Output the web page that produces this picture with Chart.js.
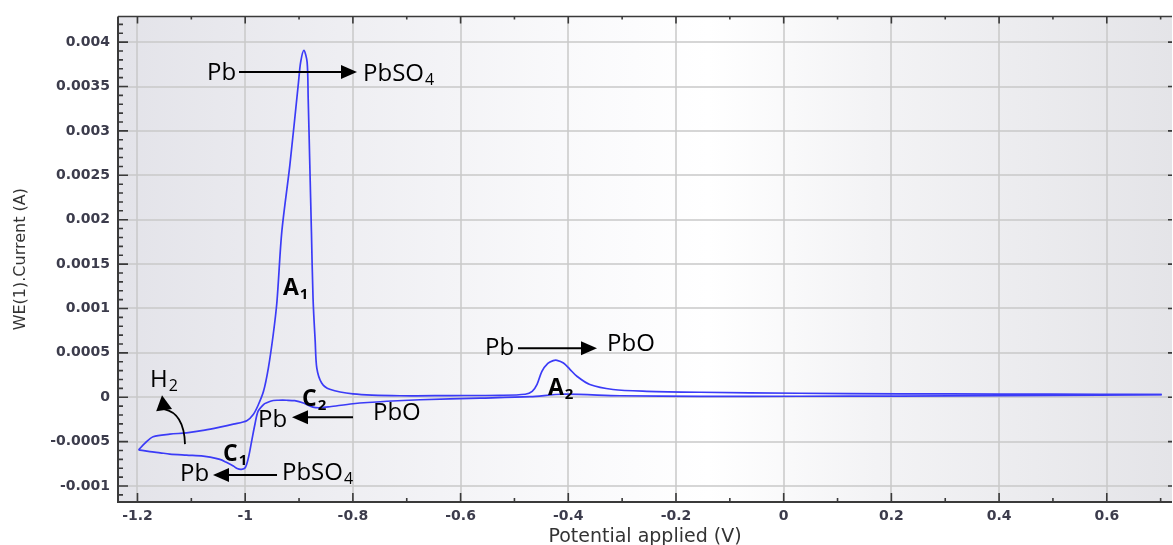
<!DOCTYPE html>
<html>
<head>
<meta charset="utf-8">
<script src="https://cdn.jsdelivr.net/npm/chart.js@4.4.1/dist/chart.umd.min.js"></script>
<style>
html, body { margin: 0; padding: 0; background: #fff; }
#cv { display: block; }
</style>
</head>
<body>
<canvas id="cv" width="1173" height="545"></canvas>
<script>
// anodic sweep, -1.2 V -> 0.7 V
var fwdPotential = [-1.198, -1.186, -1.171, -1.140, -1.109, -1.075, -1.047, -1.022, -0.997, -0.985,
    -0.976, -0.966, -0.957, -0.948, -0.941, -0.932, -0.917, -0.901, -0.897, -0.891,
    -0.885, -0.883, -0.880, -0.877, -0.874, -0.870, -0.867, -0.858, -0.843, -0.800,
    -0.713, -0.620, -0.527, -0.480, -0.467, -0.458, -0.449, -0.438, -0.428, -0.421,
    -0.409, -0.397, -0.384, -0.360, -0.317, -0.254, -0.155, 0.030, 0.216, 0.402,
    0.587, 0.702];
var fwdCurrent = [-0.000593, -0.000517, -0.000445, -0.000416, -0.000401, -0.000371, -0.000337, -0.000303, -0.000264, -0.000194,
    -0.00009, 0.000067, 0.000329, 0.000704, 0.001079, 0.001865, 0.002618, 0.00355, 0.003775, 0.003907,
    0.003775, 0.003363, 0.002618, 0.001865, 0.001116, 0.000629, 0.000329, 0.000161, 0.00009, 0.000039,
    0.000017, 0.000019, 0.000022, 0.000034, 0.000067, 0.000146, 0.000292, 0.000382, 0.000413, 0.000416,
    0.000385, 0.000315, 0.000236, 0.000143, 0.000087, 0.000067, 0.000056, 0.000045, 0.000039, 0.000036,
    0.000034, 0.000031];

// cathodic sweep, 0.7 V -> -1.2 V
var revPotential = [0.702, 0.587, 0.402, 0.216, 0.030, -0.155, -0.304, -0.410, -0.471, -0.564,
    -0.675, -0.737, -0.800, -0.843, -0.861, -0.874, -0.892, -0.908, -0.923, -0.939,
    -0.948, -0.960, -0.966, -0.976, -0.982, -0.988, -0.994, -1.000, -1.007, -1.015,
    -1.022, -1.036, -1.047, -1.065, -1.078, -1.109, -1.140, -1.158, -1.177, -1.198];
var revCurrent = [0.00003, 0.000025, 0.000019, 0.000013, 0.000011, 0.000009, 0.000017, 0.000034, 0.000006, -0.000011,
    -0.000028, -0.000045, -0.000073, -0.000107, -0.000118, -0.000112, -0.000064, -0.000039, -0.000034, -0.000034,
    -0.000037, -0.000062, -0.000082, -0.000157, -0.000307, -0.000494, -0.000681, -0.000794, -0.000812, -0.000803,
    -0.000775, -0.00073, -0.0007, -0.000674, -0.000663, -0.000652, -0.00064, -0.000626, -0.000612, -0.000593];

var xTicks = [-1.2, -1, -0.8, -0.6, -0.4, -0.2, 0, 0.2, 0.4, 0.6];
var xTickLabels = ['-1.2', '-1', '-0.8', '-0.6', '-0.4', '-0.2', '0', '0.2', '0.4', '0.6'];
var yTicks = [-0.001, -0.0005, 0, 0.0005, 0.001, 0.0015, 0.002, 0.0025, 0.003, 0.0035, 0.004];
var yTickLabels = ['-0.001', '-0.0005', '0', '0.0005', '0.001', '0.0015', '0.002', '0.0025', '0.003', '0.0035', '0.004'];

// text notes on the plot (data coordinates, y = middle of the capitals)
var notes = [
    { text: 'Pb', x: -1.0709, y: 0.003674 },
    { text: 'PbSO', sub: '4', x: -0.7812, y: 0.003663 },
    { text: 'A', sub: '1', bold: true, x: -0.9298, y: 0.001247 },
    { text: 'C', sub: '2', bold: true, x: -0.8945, y: 0.0 },
    { text: 'Pb', x: -0.9762, y: -0.000236 },
    { text: 'PbO', x: -0.7627, y: -0.000157 },
    { text: 'C', sub: '1', bold: true, x: -1.0412, y: -0.000629 },
    { text: 'Pb', x: -1.1211, y: -0.000843 },
    { text: 'PbSO', sub: '4', x: -0.9317, y: -0.000831 },
    { text: 'H', sub: '2', x: -1.1768, y: 0.000213 },
    { text: 'Pb', x: -0.5547, y: 0.000573 },
    { text: 'PbO', x: -0.3281, y: 0.000618 },
    { text: 'A', sub: '2', bold: true, x: -0.4377, y: 0.000124 }
];
var arrows = [
    { x1: -1.0115, y1: 0.003663, x2: -0.7924, y2: 0.003663 },
    { x1: -0.7998, y1: -0.000225, x2: -0.9131, y2: -0.000225 },
    { x1: -0.9409, y1: -0.000876, x2: -1.0598, y2: -0.000876 },
    { x1: -0.4934, y1: 0.000551, x2: -0.3467, y2: 0.000551 }
];
var h2Arrow = { x1: -1.1118, y1: -0.000528, cx: -1.1136, cy: -0.00018, x2: -1.1508, y2: -0.000135, tx: -1.1545, ty: 0.0000225 };

function toPoints(xs, ys) {
    return xs.map(function (v, i) { return { x: v, y: ys[i] }; });
}

// gray-white-gray panel behind the plot
var panelBg = {
    id: 'panelBg',
    beforeDraw: function (chart) {
        var a = chart.chartArea, ctx = chart.ctx;
        var g = ctx.createLinearGradient(a.left, 0, a.right, 0);
        g.addColorStop(0, '#e3e3e9');
        g.addColorStop(0.42, '#f9f9fb');
        g.addColorStop(0.56, '#ffffff');
        g.addColorStop(0.72, '#f3f3f5');
        g.addColorStop(1, '#e4e4e8');
        ctx.save();
        ctx.fillStyle = g;
        ctx.fillRect(a.left, a.top, a.right - a.left, a.bottom - a.top);
        ctx.restore();
    }
};

function drawHead(ctx, fx, fy, tx, ty, len, half) {
    var ang = Math.atan2(ty - fy, tx - fx);
    ctx.beginPath();
    ctx.moveTo(tx, ty);
    ctx.lineTo(tx - len * Math.cos(ang) + half * Math.sin(ang), ty - len * Math.sin(ang) - half * Math.cos(ang));
    ctx.lineTo(tx - len * Math.cos(ang) - half * Math.sin(ang), ty - len * Math.sin(ang) + half * Math.cos(ang));
    ctx.closePath();
    ctx.fill();
}

// frame, inward ticks and the notes
var decor = {
    id: 'decor',
    afterDraw: function (chart) {
        var ctx = chart.ctx, a = chart.chartArea;
        var xs = chart.scales.x, ys = chart.scales.y;
        ctx.save();

        ctx.strokeStyle = '#3a3a3a';
        ctx.lineWidth = 2;
        ctx.beginPath();
        ctx.moveTo(a.left, a.top);
        ctx.lineTo(a.left, a.bottom);
        ctx.lineTo(a.right, a.bottom);
        ctx.stroke();
        ctx.lineWidth = 1.5;
        ctx.beginPath();
        ctx.moveTo(a.left, a.top);
        ctx.lineTo(a.right, a.top);
        ctx.stroke();

        ctx.lineWidth = 1.6;
        ctx.beginPath();
        var i, k, p, v, step;
        for (i = 0; i < xTicks.length; i++) {
            p = xs.getPixelForValue(xTicks[i]);
            ctx.moveTo(p, a.bottom); ctx.lineTo(p, a.bottom - 9);
            ctx.moveTo(p, a.top); ctx.lineTo(p, a.top + 7);
        }
        step = xTicks[1] - xTicks[0];
        for (i = 0; i < xTicks.length; i++) {
            v = xTicks[i] + step / 2;
            if (v > xs.max) break;
            p = xs.getPixelForValue(v);
            ctx.moveTo(p, a.bottom); ctx.lineTo(p, a.bottom - 4);
            ctx.moveTo(p, a.top); ctx.lineTo(p, a.top + 3);
        }
        for (i = 0; i < yTicks.length; i++) {
            p = ys.getPixelForValue(yTicks[i]);
            ctx.moveTo(a.left, p); ctx.lineTo(a.left + 10, p);
            ctx.moveTo(a.right, p); ctx.lineTo(a.right - 4, p);
        }
        step = (yTicks[1] - yTicks[0]) / 5;
        for (i = 0; i < yTicks.length; i++) {
            for (k = 1; k < 5; k++) {
                v = yTicks[i] + k * step;
                if (v > ys.max) break;
                p = ys.getPixelForValue(v);
                ctx.moveTo(a.left, p); ctx.lineTo(a.left + 5, p);
            }
        }
        for (k = 1; k < 5; k++) {
            v = yTicks[0] - k * step;
            if (v < ys.min) break;
            p = ys.getPixelForValue(v);
            ctx.moveTo(a.left, p); ctx.lineTo(a.left + 5, p);
        }
        ctx.stroke();

        // notes
        ctx.fillStyle = '#000';
        ctx.textAlign = 'left';
        ctx.textBaseline = 'alphabetic';
        notes.forEach(function (n) {
            var size = n.bold ? 23 : 24;
            var w8 = n.bold ? 'bold ' : '';
            var px = xs.getPixelForValue(n.x);
            var base = ys.getPixelForValue(n.y) + size * 0.36;
            ctx.font = w8 + size + 'px "Open Sans"';
            ctx.fillText(n.text, px, base);
            if (n.sub) {
                var w = ctx.measureText(n.text).width;
                ctx.font = w8 + Math.round(size * 0.65) + 'px "Open Sans"';
                ctx.fillText(n.sub, px + w + 1, base + 4);
            }
        });

        ctx.strokeStyle = '#000';
        ctx.lineWidth = 2;
        arrows.forEach(function (r) {
            var x1 = xs.getPixelForValue(r.x1), y1 = ys.getPixelForValue(r.y1);
            var x2 = xs.getPixelForValue(r.x2), y2 = ys.getPixelForValue(r.y2);
            var dir = x2 > x1 ? 1 : -1;
            ctx.beginPath();
            ctx.moveTo(x1, y1);
            ctx.lineTo(x2 - dir * 12, y2);
            ctx.stroke();
            drawHead(ctx, x1, y1, x2, y2, 16, 7);
        });

        var h = h2Arrow;
        var sx = xs.getPixelForValue(h.x1), sy = ys.getPixelForValue(h.y1);
        var cx = xs.getPixelForValue(h.cx), cy = ys.getPixelForValue(h.cy);
        var ex = xs.getPixelForValue(h.x2), ey = ys.getPixelForValue(h.y2);
        var tx = xs.getPixelForValue(h.tx), ty = ys.getPixelForValue(h.ty);
        ctx.lineWidth = 1.8;
        ctx.beginPath();
        ctx.moveTo(sx, sy);
        ctx.quadraticCurveTo(cx, cy, ex, ey);
        ctx.stroke();
        drawHead(ctx, ex, ey, tx, ty, 15, 8);

        ctx.restore();
    }
};

var tickFont = { family: 'DejaVu Sans', size: 14, weight: 'bold' };

new Chart(document.getElementById('cv'), {
    type: 'scatter',
    data: {
        datasets: [
            {
                data: toPoints(fwdPotential, fwdCurrent),
                showLine: true,
                borderColor: '#3b3bf7',
                borderWidth: 1.7,
                pointRadius: 0,
                tension: 0.3
            },
            {
                data: toPoints(revPotential, revCurrent),
                showLine: true,
                borderColor: '#3b3bf7',
                borderWidth: 1.7,
                pointRadius: 0,
                tension: 0.3
            }
        ]
    },
    options: {
        responsive: false,
        animation: false,
        events: [],
        layout: { padding: { top: 15, right: 1, left: 0, bottom: 0 } },
        plugins: {
            legend: { display: false },
            tooltip: { enabled: false }
        },
        scales: {
            x: {
                type: 'linear',
                min: -1.2362,
                max: 0.7211,
                afterBuildTicks: function (scale) {
                    scale.ticks = xTicks.map(function (v) { return { value: v }; });
                },
                afterFit: function (scale) { scale.height = 43; },
                ticks: {
                    autoSkip: false,
                    maxRotation: 0,
                    padding: 6,
                    color: '#3c3c4c',
                    font: tickFont,
                    callback: function (value, index) { return xTickLabels[index]; }
                },
                grid: { color: 'rgba(200,200,200,0.75)', lineWidth: 2, drawTicks: false },
                border: { display: false },
                title: {
                    display: true,
                    text: 'Potential applied (V)',
                    color: '#333',
                    font: { family: 'DejaVu Sans', size: 19 },
                    padding: { top: 0, bottom: -3 }
                }
            },
            y: {
                type: 'linear',
                min: -0.00118,
                max: 0.00429,
                afterBuildTicks: function (scale) {
                    scale.ticks = yTicks.map(function (v) { return { value: v }; });
                },
                afterFit: function (scale) { scale.width = 118; },
                ticks: {
                    autoSkip: false,
                    padding: 8,
                    color: '#3c3c4c',
                    font: tickFont,
                    callback: function (value, index) { return yTickLabels[index]; }
                },
                grid: { color: 'rgba(200,200,200,0.75)', lineWidth: 2, drawTicks: false },
                border: { display: false },
                title: {
                    display: true,
                    text: 'WE(1).Current (A)',
                    color: '#333',
                    font: { family: 'DejaVu Sans', size: 16 },
                    padding: { top: 11, bottom: 0 }
                }
            }
        }
    },
    plugins: [panelBg, decor]
});
</script>
</body>
</html>
